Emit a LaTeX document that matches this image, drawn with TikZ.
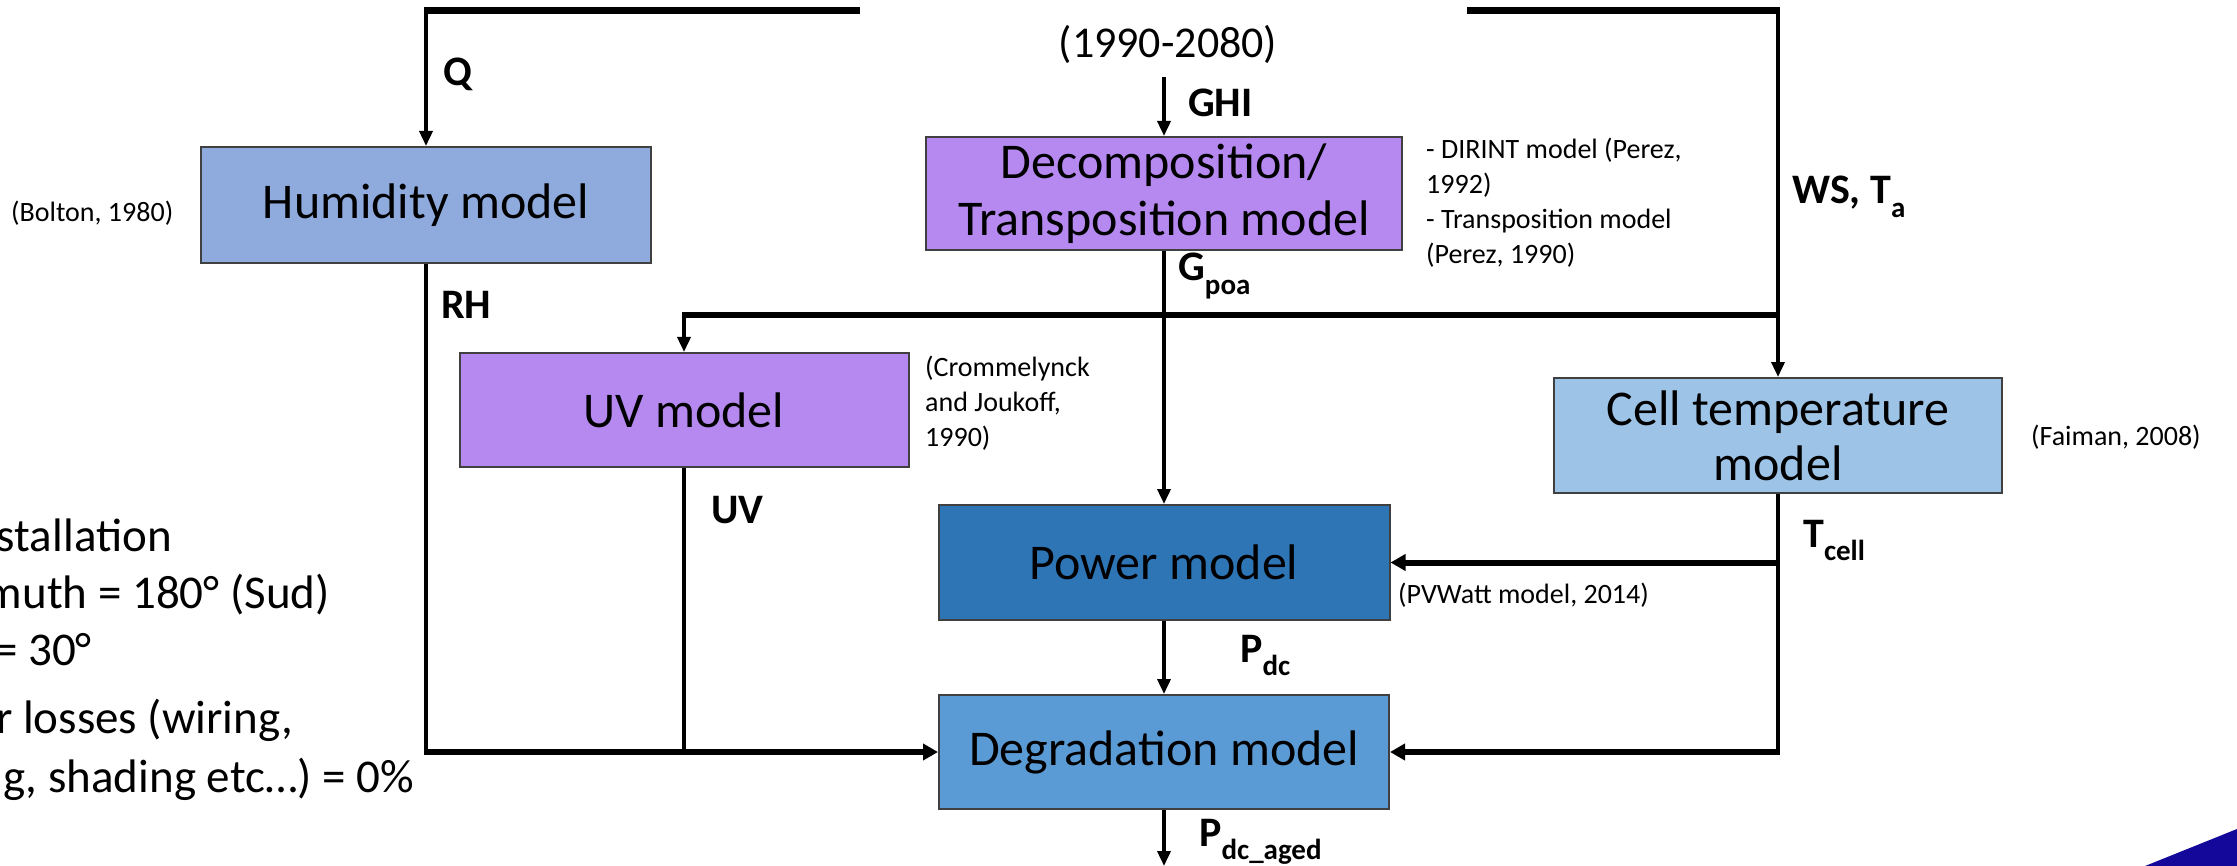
\documentclass[tikz,border=0pt]{standalone}
\usepackage{fontspec}
\setmainfont{Carlito}
\usetikzlibrary{arrows.meta}
\definecolor{humc}{HTML}{8FAADC}
\definecolor{purp}{HTML}{B589F0}
\definecolor{cellc}{HTML}{9DC3E6}
\definecolor{powc}{HTML}{2E75B6}
\definecolor{degc}{HTML}{5B9BD5}
\definecolor{tric}{HTML}{14089B}
\newcommand\lsub[1]{\raisebox{-0.32em}{\fontsize{29}{29}\selectfont #1}}
\begin{document}
\begin{tikzpicture}[x=1pt,y=-1pt,
  box/.style={draw=black!75, line width=2pt, inner sep=0pt, align=center, text=black, font=\fontsize{50}{57}\selectfont},
  conn/.style={line width=3.5pt},
  fat/.style={line width=6pt},
  topline/.style={line width=7pt},
  tip/.style={-{Triangle[length=15pt,width=13pt]}},
  fattip/.style={-{Triangle[length=15pt,width=16pt]}},
  lab/.style={font=\fontsize{42}{42}\selectfont\bfseries, anchor=base west, inner sep=0pt},
  cite/.style={font=\fontsize{28}{35}\selectfont, anchor=west, align=left, inner sep=0pt},
  side/.style={font=\fontsize{47}{47}\selectfont, anchor=base east, inner sep=0pt}
]
\useasboundingbox (0,0) rectangle (2237,866);
\clip (0,0) rectangle (2237,866);

% boxes
\node[box, fill=humc, minimum width=450pt, minimum height=116pt] (hum) at (426,205) {Humidity model};
\node[box, fill=purp, minimum width=476pt, minimum height=113pt] (dec) at (1164,193.5) {Decomposition/\\Transposition model};
\node[box, fill=purp, minimum width=449pt, minimum height=114pt] (uv) at (684,410) {UV model};
\node[box, fill=cellc, minimum width=448pt, minimum height=115pt, font=\fontsize{50}{55}\selectfont] (cell) at (1778,435.5) {Cell temperature\\model};
\node[box, fill=powc, minimum width=451pt, minimum height=115pt] (pow) at (1164,562.5) {Power model};
\node[box, fill=degc, minimum width=450pt, minimum height=114pt] (deg) at (1164,752) {Degradation model};

% named free ends / corners
\coordinate (tl1) at (860,11);
\coordinate (tl2) at (424.25,11);
\coordinate (q0) at (426,11);
\coordinate (tr1) at (1467,11);
\coordinate (tr2) at (1779.75,11);
\coordinate (w0) at (1778,11);
\coordinate (ghi0) at (1164,77);
\coordinate (uvR) at (1779.75,315);
\coordinate (uvL) at (682.25,315);
\coordinate (uv0) at (684,315);
\coordinate (rh1) at (426,755);
\coordinate (rh2) at (424.25,752);
\coordinate (uv1) at (684,752);
\coordinate (tc1) at (1778,755);
\coordinate (tc2) at (1779.75,562.5);
\coordinate (tc3) at (1779.75,752);
\coordinate (out) at (1164,866);

% connectors
\draw[topline] (tl1) -- (tl2);
\draw[conn,tip] (q0) -- (hum.north);
\draw[topline] (tr1) -- (tr2);
\draw[conn,tip] (w0) -- (cell.north);
\draw[conn,tip] (ghi0) -- (dec.north);
\draw[conn,tip] (dec.south) -- (pow.north);
\draw[fat] (uvR) -- (uvL);
\draw[conn,tip] (uv0) -- (uv.north);
\draw[conn] (hum.south) -- (rh1);
\draw[fat,fattip] (rh2) -- (deg.west);
\draw[conn] (uv.south) -- (uv1);
\draw[conn] (cell.south) -- (tc1);
\draw[fat,fattip] (tc2) -- (pow.east);
\draw[fat,fattip] (tc3) -- (deg.east);
\draw[conn,tip] (pow.south) -- (deg.north);
\draw[conn,tip] (deg.south) -- (out);

% connector labels
\node[lab] (ql) at (443,86) {Q};
\node[lab] (rhl) at (441,319) {RH};
\node[lab] (ghil) at (1188,117) {GHI};
\node[lab] (gpoal) at (1178,281) {G\lsub{poa}};
\node[lab] (wsl) at (1792,204) {WS, T\lsub{a}};
\node[lab] (uvl) at (711,523) {UV};
\node[lab] (pdcl) at (1240,662) {P\lsub{dc}};
\node[lab] (tcl) at (1803,547) {T\lsub{cell}};
\node[lab] (pagl) at (1199,846) {P\lsub{dc\textunderscore aged}};

% years
\node[font=\fontsize{44}{44}\selectfont, inner sep=0pt, anchor=base] (yrs) at (1168,58) {(1990-2080)};

% citations
\node[cite] (bolton) at (11,213) {(Bolton, 1980)};
\node[cite] (decc) at (1426,202.5) {- DIRINT model (Perez,\\1992)\\- Transposition model\\(Perez, 1990)};
\node[cite] (crom) at (925,403) {(Crommelynck\\and Joukoff,\\1990)};
\node[cite] (faim) at (2031,437) {(Faiman, 2008)};
\node[cite] (pvw) at (1398,595) {(PVWatt model, 2014)};

% side text (cut by the page edge)
\node[side] (s1) at (172,551) {stallation};
\node[side] (s2) at (330,608) {muth = 180° (Sud)};
\node[side] (s3) at (92,665) {= 30°};
\node[side] (s4) at (293,733) {r losses (wiring,};
\node[side] (s5) at (414,792) {g, shading etc…) = 0\%};

% corner decoration
\fill[tric] (2145,866) -- (2237,829) -- (2237,866) -- cycle;
\end{tikzpicture}
\end{document}
